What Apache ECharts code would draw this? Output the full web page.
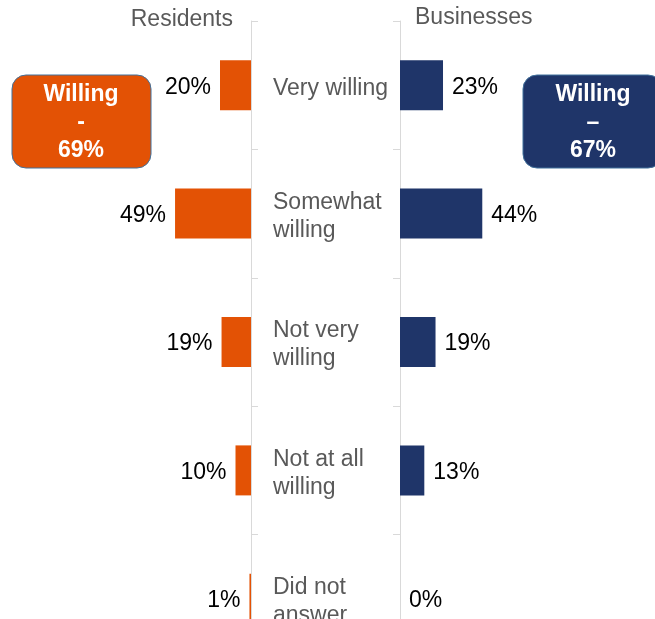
<!DOCTYPE html>
<html>
<head>
<meta charset="utf-8">
<script src="https://cdn.jsdelivr.net/npm/echarts@6/dist/echarts.min.js"></script>
<style>
  html, body { margin: 0; padding: 0; background: #fff; overflow: hidden; }
  /* taller than the window on purpose: the last row is cut off like in the original */
  #chart { width: 655px; height: 680px; }
</style>
</head>
<body>
<div id="chart"></div>
<script>
const categories = ["Very willing", "Somewhat\nwilling", "Not very\nwilling", "Not at all\nwilling", "Did not\nanswer"]
const residents = [20, 49, 19, 10, 1]
const businesses = [23, 44, 19, 13, 0]
const residentsTotal = "69%"
const businessesTotal = "67%"

const ORANGE = "#E35205"
const NAVY = "#1F3569"
const GREY_TEXT = "#595959"
const AXIS_GREY = "#D9D9D9"
const FONT = "Liberation Sans, Arial, sans-serif"
const FS = 23

const chart = echarts.init(document.getElementById("chart"))

// side panel boxes ("Willing - xx%")
const willingBox = (x, cx, fill, text) => ({
  type: "group",
  children: [
    {
      type: "rect",
      shape: { x: x, y: 75, width: 139, height: 93, r: 14 },
      style: { fill: fill, stroke: "#41719C", lineWidth: 1 }
    },
    {
      type: "text",
      x: cx,
      y: 123,
      style: {
        text: text,
        fill: "#fff",
        font: "bold " + FS + "px " + FONT,
        lineHeight: 28,
        align: "center",
        verticalAlign: "middle"
      }
    }
  ]
})

const valueLabel = (pos) => ({
  show: true,
  position: pos,
  distance: 9,
  offset: [0, 2],
  formatter: "{c}%",
  color: "#000",
  fontSize: FS,
  fontFamily: FONT
})

const option = {
  backgroundColor: "#fff",
  animation: false,
  textStyle: { fontFamily: FONT },
  grid: [
    { left: 96, width: 155, top: 21, height: 642 },
    { left: 400, width: 187, top: 21, height: 642 }
  ],
  xAxis: [
    { gridIndex: 0, type: "value", min: 0, max: 100, inverse: true, show: false },
    { gridIndex: 1, type: "value", min: 0, max: 100, show: false }
  ],
  yAxis: [
    {
      gridIndex: 0,
      type: "category",
      data: categories,
      inverse: true,
      position: "right",
      axisLine: { show: true, lineStyle: { color: AXIS_GREY, width: 1 } },
      axisTick: { show: true, length: 7, lineStyle: { color: AXIS_GREY } },
      axisLabel: {
        margin: 22,
        align: "left",
        // small empty first line nudges the text a few px down
        formatter: (v) => "{s|}\n" + v.split("\n").map((s) => "{t|" + s + "}").join("\n"),
        rich: {
          s: { lineHeight: 6, fontSize: 1 },
          t: { color: GREY_TEXT, fontSize: FS, lineHeight: 28, fontFamily: FONT }
        }
      }
    },
    {
      gridIndex: 1,
      type: "category",
      data: categories,
      inverse: true,
      position: "left",
      axisLine: { show: true, lineStyle: { color: AXIS_GREY, width: 1 } },
      axisTick: { show: true, length: 7, lineStyle: { color: AXIS_GREY } },
      axisLabel: { show: false }
    }
  ],
  series: [
    {
      name: "Residents",
      type: "bar",
      xAxisIndex: 0,
      yAxisIndex: 0,
      data: residents,
      barWidth: 50,
      itemStyle: { color: ORANGE },
      label: valueLabel("left")
    },
    {
      name: "Businesses",
      type: "bar",
      xAxisIndex: 1,
      yAxisIndex: 1,
      data: businesses,
      barWidth: 50,
      itemStyle: { color: NAVY },
      label: valueLabel("right")
    }
  ],
  graphic: [
    {
      type: "text",
      x: 233,
      y: 20,
      style: { text: "Residents", fill: GREY_TEXT, font: FS + "px " + FONT, align: "right", verticalAlign: "middle" }
    },
    {
      type: "text",
      x: 415,
      y: 18,
      style: { text: "Businesses", fill: GREY_TEXT, font: FS + "px " + FONT, align: "left", verticalAlign: "middle" }
    },
    willingBox(12, 81, ORANGE, "Willing\n-\n" + residentsTotal),
    willingBox(523, 593, NAVY, "Willing\n\u2013\n" + businessesTotal)
  ]
}

chart.setOption(option)
</script>
</body>
</html>
